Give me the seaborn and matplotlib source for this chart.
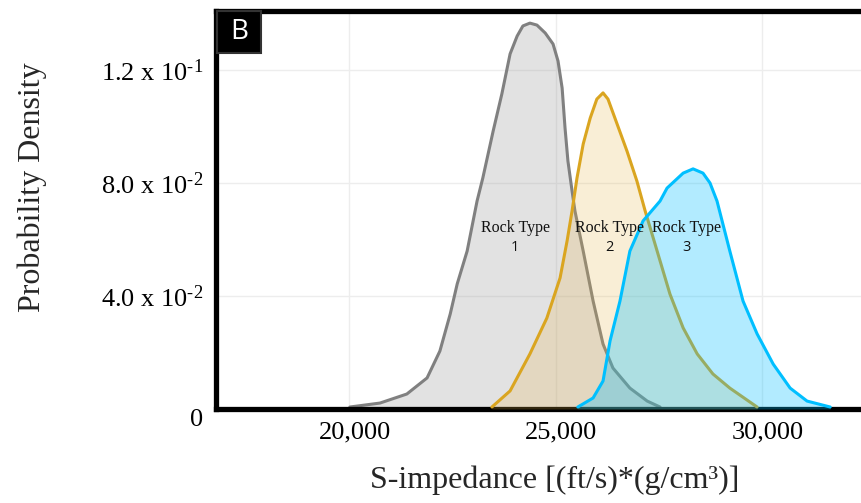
import pandas as pd
import seaborn as sns
import matplotlib.pyplot as plt
import matplotlib.ticker as ticker
import matplotlib.patches as patches
from matplotlib.transforms import ScaledTranslation

# density curves: S-impedance vs probability density
rt1_x = [20020, 20750, 21400, 21890, 22200, 22450, 22620, 22860, 23100, 23240,
         23490, 23700, 23900, 24070, 24210, 24380, 24550, 24750, 24940, 25060,
         25160, 25230, 25300, 25400, 25470, 25670, 25910, 26150, 26390, 26800,
         27220, 27530]
rt1_y = [0.0007, 0.0021, 0.0053, 0.0110, 0.0205, 0.0336, 0.0443, 0.0559, 0.0736, 0.0818,
         0.0984, 0.1115, 0.1257, 0.1320, 0.1356, 0.1366, 0.1359, 0.1331, 0.1292, 0.1232,
         0.1136, 0.0995, 0.0878, 0.0772, 0.0701, 0.0559, 0.0382, 0.0230, 0.0145, 0.0074,
         0.0028, 0.0007]

rt2_x = [23460, 23900, 24380, 24790, 25110, 25280, 25400, 25520, 25670, 25840,
         26000, 26150, 26270, 26490, 26730, 26970, 27170, 27460, 27770, 28090,
         28430, 28810, 29220, 29880]
rt2_y = [0.0007, 0.0064, 0.0195, 0.0322, 0.0464, 0.0595, 0.0701, 0.0818, 0.0938, 0.1030,
         0.1097, 0.1119, 0.1097, 0.1009, 0.0913, 0.0807, 0.0701, 0.0559, 0.0407, 0.0287,
         0.0195, 0.0124, 0.0074, 0.0007]

rt3_x = [25540, 25910, 26150, 26320, 26560, 26800, 27120, 27530, 27700, 28090,
         28330, 28570, 28740, 28910, 29220, 29540, 29880, 30270, 30680, 31090,
         31650]
rt3_y = [0.0007, 0.0039, 0.0099, 0.0241, 0.0382, 0.0559, 0.0666, 0.0736, 0.0782, 0.0835,
         0.0850, 0.0835, 0.0800, 0.0736, 0.0559, 0.0382, 0.0266, 0.0159, 0.0074, 0.0028,
         0.0007]

rock_names = ['Rock Type', 'Rock Type', 'Rock Type']
rock_numbers = ['1', '2', '3']
label_x = [24020, 26300, 28180]
name_y = 0.0641
number_y = 0.0573

x_ticks = [20000, 25000, 30000]
y_ticks = [0, 0.04, 0.08, 0.12]
y_tick_labels = ['0', '4.0 x 10$^{\u20102}$', '8.0 x 10$^{\u20102}$', '1.2 x 10$^{\u20101}$']

sns.set_style('white')
plt.rcParams['font.family'] = ['Liberation Serif', 'DejaVu Serif']
plt.rcParams['mathtext.fontset'] = 'custom'
plt.rcParams['mathtext.rm'] = 'Liberation Serif'
plt.rcParams['mathtext.it'] = 'Liberation Serif:italic'

line_colors = ['#808080', '#DAA520', '#00BFFF']
fill_colors = ['#a0a0a0', '#e8b448', '#00bfff']
fill_alpha = [0.3, 0.22, 0.3]

curves = [(rt1_x, rt1_y), (rt2_x, rt2_y), (rt3_x, rt3_y)]

fig = plt.figure(figsize=(8.62, 5.03), dpi=100)
ax = fig.add_axes([0.2506, 0.1869, 0.7494, 0.7913])

for i, (xs, ys) in enumerate(curves):
    df = pd.DataFrame({'x': xs, 'y': ys})
    ax.fill_between(df['x'], df['y'], 0, color=fill_colors[i], alpha=fill_alpha[i], lw=0, zorder=2 + i)
    sns.lineplot(data=df, x='x', y='y', ax=ax, color=line_colors[i], lw=2.2, sort=False, zorder=2.5 + i)
    # line joins rounded so the curves look smooth
    ax.lines[-1].set_solid_joinstyle('round')

for i in range(3):
    ax.text(label_x[i], name_y, rock_names[i], ha='center', va='center', fontsize=11.5,
            color='#111111', zorder=10)
    ax.text(label_x[i], number_y, rock_numbers[i], ha='center', va='center', fontsize=10.5,
            color='#111111', family=['Open Sans', 'DejaVu Sans'], zorder=10)

ax.set_xlim(16780, 32420)
ax.set_ylim(0, 0.1409)
ax.set_xticks(x_ticks)
ax.xaxis.set_major_formatter(ticker.FuncFormatter(lambda v, pos: f'{v:,.0f}'))
ax.set_yticks(y_ticks)
ax.set_yticklabels(y_tick_labels)
ax.tick_params(axis='both', length=0, labelsize=19, colors='black')
ax.tick_params(axis='y', pad=9)
ax.tick_params(axis='x', pad=9)

# small nudges of tick labels to where they sit in the original
ylabs = ax.get_yticklabels()
ylabs[0].set_transform(ylabs[0].get_transform() + ScaledTranslation(0, -6 / 72, fig.dpi_scale_trans))
for lab in ax.get_xticklabels():
    lab.set_transform(lab.get_transform() + ScaledTranslation(4 / 72, 0, fig.dpi_scale_trans))

ax.grid(True, color='#ededed', lw=1)
ax.set_axisbelow(True)

for side in ['left', 'top', 'bottom']:
    ax.spines[side].set_visible(True)
    ax.spines[side].set_color('black')
    ax.spines[side].set_linewidth(3.8)
ax.spines['right'].set_visible(False)

ax.set_xlabel('S-impedance [(ft/s)*(g/cm³)]', fontsize=23)
ax.set_ylabel('Probability Density', fontsize=23)
ax.xaxis.set_label_coords(0.524, -0.143)
ax.yaxis.set_label_coords(-0.262, 0.558)

# panel letter box
ax.add_patch(patches.Rectangle((0.0015, 0.894), 0.068, 0.106, transform=ax.transAxes,
                               facecolor='black', edgecolor='#333333', lw=1.5,
                               clip_on=False, zorder=20))
ax.text(0.036, 0.947, 'B', transform=ax.transAxes, ha='center', va='center',
        color='white', fontsize=20, family=['Open Sans', 'DejaVu Sans'], zorder=21)

fig.savefig('out.png', dpi=100)
